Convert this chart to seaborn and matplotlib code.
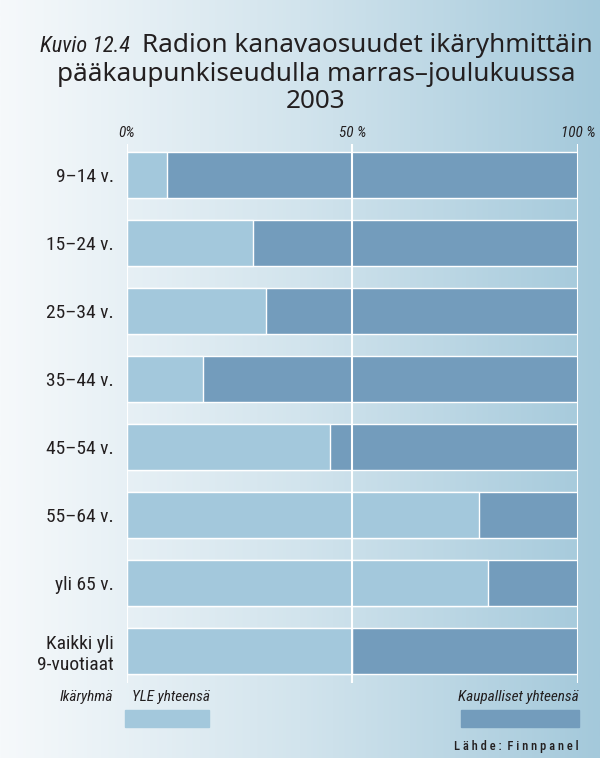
import numpy as np
import pandas as pd
import matplotlib
matplotlib.use("Agg")
import matplotlib.pyplot as plt
from matplotlib.patches import Rectangle
from matplotlib.colors import LinearSegmentedColormap
import seaborn as sns

# ========= DATA =========
age_groups = ["9–14 v.", "15–24 v.", "25–34 v.", "35–44 v.", "45–54 v.",
              "55–64 v.", "yli 65 v.", "Kaikki yli\n9-vuotiaat"]
yle_share = [9, 28, 31, 17, 45, 78, 80, 50]
commercial_share = [91, 72, 69, 83, 55, 22, 20, 50]
tick_values = [0, 50, 100]
tick_labels = ["0%", "50 %", "100 %"]

YLE_COL = "#a3c8dc"
COM_COL = "#739cbc"
TXT = "#231f20"
FONTS = ["Roboto Condensed", "PT Sans Narrow", "DejaVu Sans"]
TITLE_FONTS = ["Noto Sans", "DejaVu Sans"]

df = pd.DataFrame({"group": age_groups, "yle": yle_share, "com": commercial_share})
df["total"] = df["yle"] + df["com"]

# ========= FIGURE =========
sns.set_style("white")
plt.rcParams["font.family"] = FONTS

W, H = 600, 758
fig = plt.figure(figsize=(W / 100, H / 100), dpi=100)

def px(x, y):
    return x / W, 1 - y / H

# background gradient
bg = fig.add_axes([0, 0, 1, 1], zorder=-10)
grad = LinearSegmentedColormap.from_list("bg", ["#f6f9fb", "#d2e4ed", "#a4c9db"])
bg.imshow(np.linspace(0, 1, 256)[None, :], aspect="auto", cmap=grad, extent=[0, 1, 0, 1])
bg.set_axis_off()

x0, x1 = px(126.5, 0)[0], px(578, 0)[0]
y_top, y_bot = px(0, 144)[1], px(0, 683)[1]
ax = fig.add_axes([x0, y_bot, x1 - x0, y_top - y_bot])
ax.set_facecolor("none")

sns.barplot(data=df, x="total", y="group", orient="h", color=COM_COL,
            width=0.68, saturation=1, ax=ax)
sns.barplot(data=df, x="yle", y="group", orient="h", color=YLE_COL,
            width=0.68, saturation=1, ax=ax)

for v in tick_values:
    ax.axvline(v, color="white", lw=1.5, zorder=5)

ax.set_xlim(0, 100)
ax.set_ylim(7.47, -0.46)
ax.xaxis.tick_top()
ax.set_xticks(tick_values)
ax.set_xticklabels(tick_labels, fontsize=11, style="italic", color=TXT)
ax.tick_params(axis="x", length=0, pad=3)
ax.tick_params(axis="y", length=0, pad=9, labelsize=14, labelcolor=TXT)
ax.set_xlabel("")
ax.set_ylabel("")
sns.despine(ax=ax, left=True, bottom=True, top=True, right=True)

# ========= TITLE =========
fig.text(*px(130, 52), "Kuvio 12.4", ha="right", va="baseline",
         fontsize=16, style="italic", weight="normal", color=TXT)
fig.text(*px(142, 52), "Radion kanavaosuudet ikäryhmittäin", ha="left",
         va="baseline", fontsize=18.8, color=TXT, family=TITLE_FONTS)
fig.text(*px(316, 81), "pääkaupunkiseudulla marras–joulukuussa", ha="center",
         va="baseline", fontsize=18.8, color=TXT, family=TITLE_FONTS)
fig.text(*px(316, 108), "2003", ha="center", va="baseline", fontsize=18.8,
         color=TXT, family=TITLE_FONTS)

# ========= LEGEND =========
fig.text(*px(113, 701), "Ikäryhmä", ha="right", va="baseline",
         fontsize=11, style="italic", color=TXT)
fig.text(*px(132, 701), "YLE yhteensä", ha="left", va="baseline",
         fontsize=11, style="italic", color=TXT)
fig.text(*px(579, 701), "Kaupalliset yhteensä", ha="right", va="baseline",
         fontsize=11, style="italic", color=TXT)
for (xa, xb), col in [((125, 209), YLE_COL), ((461, 579), COM_COL)]:
    fx, fy = px(xa, 727)
    fig.patches.append(Rectangle((fx, fy), (xb - xa) / W, 17 / H,
                                 transform=fig.transFigure, color=col))

fig.text(*px(579, 750), "L ä h d e :  F i n n p a n e l", ha="right", va="baseline",
         fontsize=9, color=TXT, weight="medium")

fig.savefig("out.png", dpi=100)
